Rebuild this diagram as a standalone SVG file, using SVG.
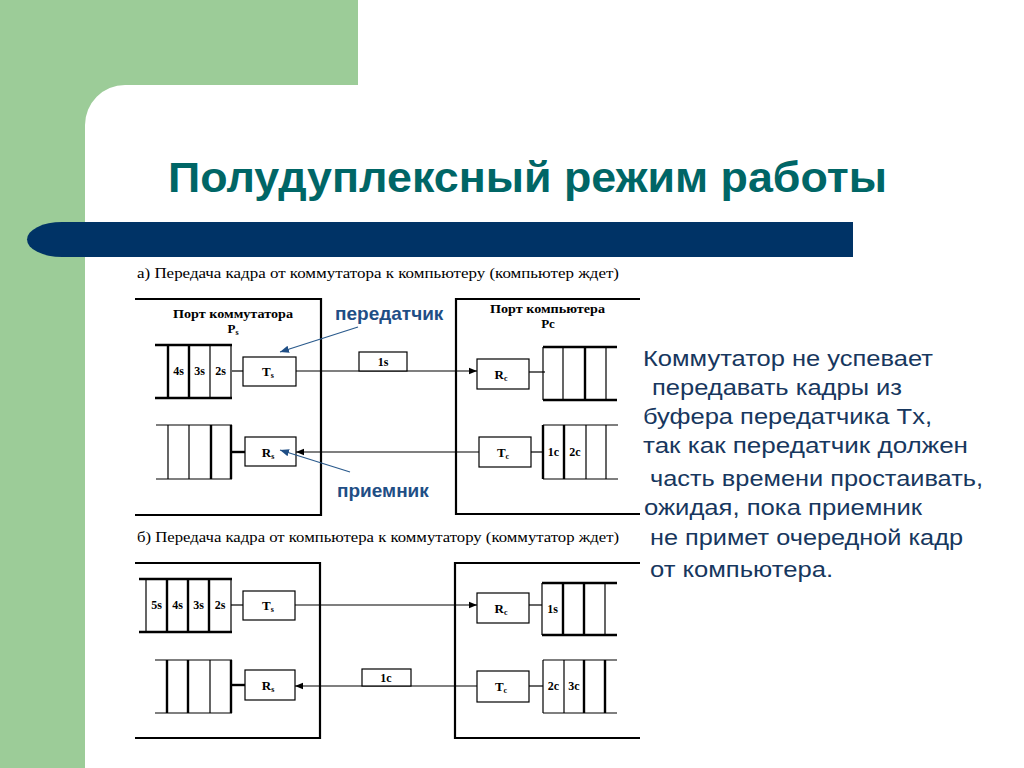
<svg xmlns="http://www.w3.org/2000/svg" width="1024" height="768" viewBox="0 0 1024 768">
<defs>
<style>
.ln{stroke:#000;stroke-width:1.2;fill:none}
.tk{stroke:#000;stroke-width:2.4;fill:none}
.fr{stroke:#000;stroke-width:2.2;fill:none}
.bx{stroke:#000;stroke-width:1.2;fill:#fff}
.lb{font-family:"Liberation Serif",serif;font-weight:bold;font-size:12px;fill:#000;text-anchor:middle}
.bl{font-family:"Liberation Serif",serif;font-weight:bold;font-size:13px;fill:#000;text-anchor:middle}
.pt{font-family:"Liberation Serif",serif;font-weight:bold;font-size:13px;fill:#000}
.cap{font-family:"Liberation Serif",serif;font-size:15px;fill:#000}
.body{font-family:"Liberation Sans",Arial,sans-serif;font-size:22px;fill:#17375e}
.ann{font-family:"Liberation Sans",Arial,sans-serif;font-size:19px;font-weight:bold;fill:#1f4e85}
.al{stroke:#2a5a8c;stroke-width:1.2;fill:none}
</style>
<marker id="ah" viewBox="0 0 10 10" refX="10" refY="5" markerWidth="8" markerHeight="8" markerUnits="userSpaceOnUse" orient="auto"><path d="M0,1 L10,5 L0,9 Z" fill="#000"/></marker>
<marker id="bh" viewBox="0 0 10 10" refX="10" refY="5" markerWidth="9" markerHeight="9" markerUnits="userSpaceOnUse" orient="auto"><path d="M0,1 L10,5 L0,9 Z" fill="#1f4e85"/></marker>
</defs>
<rect width="1024" height="768" fill="#fff"/>
<g id="background">
<rect x="0" y="0" width="358" height="85" fill="#9ccc98"/>
<rect x="0" y="0" width="85" height="768" fill="#9ccc98"/>
<path d="M85,125 A40,40 0 0 1 125,85 L85,85 Z" fill="#9ccc98"/>
<path d="M853,222 H62 A35,17.5 0 0 0 62,257 H853 Z" fill="#003366"/>
</g>
<text id="title" x="168" y="192" font-family="Liberation Sans,Arial,sans-serif" font-size="42" font-weight="bold" fill="#006666" textLength="719" lengthAdjust="spacingAndGlyphs">Полудуплексный режим работы</text>

<text class="cap" x="137" y="278" textLength="482" lengthAdjust="spacingAndGlyphs">а) Передача кадра от коммутатора к компьютеру (компьютер ждет)</text>
<text class="cap" x="137" y="542" textLength="482" lengthAdjust="spacingAndGlyphs">б) Передача кадра от компьютера к коммутатору (коммутатор ждет)</text>

<g id="top-switch-port">
<path class="fr" d="M135,299 H321 V515 H135"/>
<text class="pt" x="173" y="318" textLength="120" lengthAdjust="spacingAndGlyphs">Порт коммутатора</text>
<text class="bl" x="233" y="333">P<tspan font-size="8" dy="2">s</tspan></text>
</g>
<g id="top-computer-port">
<path class="fr" d="M640,299 H456 V514 H640"/>
<text class="pt" x="490" y="313" textLength="115" lengthAdjust="spacingAndGlyphs">Порт компьютера</text>
<text class="bl" x="548" y="328">Pc</text>
</g>

<g id="top-sw-txqueue">
<path class="tk" d="M155,345 H232 M155,398 H232 M168,345 V398 M189,345 V398"/>
<path class="ln" d="M210,345 V398 M231,345 V398"/>
<text class="lb" x="178.5" y="375">4s</text>
<text class="lb" x="199.5" y="375">3s</text>
<text class="lb" x="220.5" y="375">2s</text>
</g>
<g id="top-sw-tx"><rect class="bx" x="243" y="357" width="53" height="29"/><text class="bl" x="268" y="376">T<tspan font-size="8" dy="2">s</tspan></text></g>
<g id="top-sw-rxqueue">
<path class="ln" d="M156,425 H232 M156,479 H232 M168,425 V479 M189,425 V479"/>
<path class="tk" d="M211,425 V479 M231,425 V479"/>
</g>
<g id="top-sw-rx"><rect class="bx" x="245" y="437" width="51" height="29"/><text class="bl" x="268" y="457">R<tspan font-size="8" dy="2">s</tspan></text></g>

<g id="top-pc-rx"><rect class="bx" x="477" y="359" width="52" height="30"/><text class="bl" x="501" y="379">R<tspan font-size="8" dy="2">c</tspan></text></g>
<g id="top-pc-rxqueue">
<path class="tk" d="M543,347 H617 M543,400 H617 M585,347 V400"/>
<path class="ln" d="M543,347 V400 M563,347 V400 M606,347 V400"/>
</g>
<g id="top-pc-tx"><rect class="bx" x="479" y="437" width="52" height="30"/><text class="bl" x="503" y="457">T<tspan font-size="8" dy="2">c</tspan></text></g>
<g id="top-pc-txqueue">
<path class="ln" d="M543,425 H618 M543,479 H618 M586,425 V479 M606,425 V479"/>
<path class="tk" d="M543,425 V479 M564,425 V479"/>
<text class="lb" x="553.5" y="456">1c</text>
<text class="lb" x="575" y="456">2c</text>
</g>

<g id="bot-switch-port"><path class="fr" d="M135,563 H320 V738 H135"/></g>
<g id="bot-computer-port"><path class="fr" d="M640,563 H455 V738 H640"/></g>

<g id="bot-sw-txqueue">
<path class="tk" d="M139,579 H232 M139,632 H232 M167,579 V632 M188,579 V632 M209,579 V632"/>
<path class="ln" d="M146,579 V632 M231,579 V632"/>
<text class="lb" x="156.5" y="609">5s</text>
<text class="lb" x="177.5" y="609">4s</text>
<text class="lb" x="198.5" y="609">3s</text>
<text class="lb" x="220" y="609">2s</text>
</g>
<g id="bot-sw-tx"><rect class="bx" x="243" y="591" width="52" height="29"/><text class="bl" x="268" y="610">T<tspan font-size="8" dy="2">s</tspan></text></g>
<g id="bot-sw-rxqueue">
<path class="tk" d="M167,660 V713 M188,660 V713 M231,660 V713"/>
<path class="ln" d="M155,660 H232 M155,713 H232 M210,660 V713"/>
</g>
<g id="bot-sw-rx"><rect class="bx" x="245" y="670" width="50" height="30"/><text class="bl" x="268" y="690">R<tspan font-size="8" dy="2">s</tspan></text></g>

<g id="bot-pc-rx"><rect class="bx" x="477" y="593" width="52" height="30"/><text class="bl" x="501" y="613">R<tspan font-size="8" dy="2">c</tspan></text></g>
<g id="bot-pc-rxqueue">
<path class="tk" d="M542,583 H617 M542,635 H617 M563,583 V635 M584,583 V635"/>
<path class="ln" d="M542,583 V635 M605,583 V635"/>
<text class="lb" x="552.5" y="613">1s</text>
</g>
<g id="bot-pc-tx"><rect class="bx" x="477" y="671" width="52" height="31"/><text class="bl" x="501" y="691">T<tspan font-size="8" dy="2">c</tspan></text></g>
<g id="bot-pc-txqueue">
<path class="ln" d="M543,660 H617 M543,713 H617 M543,660 V713 M564,660 V713"/>
<path class="tk" d="M584,660 V713 M605,660 V713"/>
<text class="lb" x="553.5" y="690">2c</text>
<text class="lb" x="574" y="690">3c</text>
</g>

<g id="connectors">
<path class="ln" d="M232,371 H243"/>
<path class="ln" d="M296,371 H477" marker-end="url(#ah)"/>
<rect class="bx" x="359" y="352" width="48" height="19"/>
<text class="lb" x="383" y="366">1s</text>
<path class="ln" d="M529,372 H545"/>
<path class="tk" d="M231,452 H245"/>
<path class="ln" d="M479,452 H296" marker-end="url(#ah)"/>
<path class="ln" d="M531,452 H543"/>

<path class="ln" d="M231,605 H243"/>
<path class="ln" d="M295,605 H477" marker-end="url(#ah)"/>
<path class="ln" d="M529,605 H542"/>
<path class="tk" d="M231,685 H245"/>
<path class="ln" d="M477,686 H295" marker-end="url(#ah)"/>
<rect class="bx" x="362" y="669" width="49" height="17"/>
<text class="lb" x="386" y="682">1c</text>
<path class="ln" d="M529,686 H543"/>

<path class="al" d="M358,327 L280,352" marker-end="url(#bh)"/>
<path class="al" d="M350,472 L280,450" marker-end="url(#bh)"/>
</g>

<text class="ann" x="335" y="320">передатчик</text>
<text class="ann" x="337" y="497">приемник</text>

<g id="description">
<text class="body" x="643" y="366" textLength="290" lengthAdjust="spacingAndGlyphs">Коммутатор не успевает</text>
<text class="body" x="652" y="395" textLength="250" lengthAdjust="spacingAndGlyphs">передавать кадры из</text>
<text class="body" x="643" y="424" textLength="289" lengthAdjust="spacingAndGlyphs">буфера передатчика Tx,</text>
<text class="body" x="643" y="453" textLength="325" lengthAdjust="spacingAndGlyphs">так как передатчик должен</text>
<text class="body" x="650" y="486" textLength="333" lengthAdjust="spacingAndGlyphs">часть времени простаивать,</text>
<text class="body" x="644" y="515" textLength="278" lengthAdjust="spacingAndGlyphs">ожидая, пока приемник</text>
<text class="body" x="650" y="545" textLength="313" lengthAdjust="spacingAndGlyphs">не примет очередной кадр</text>
<text class="body" x="650" y="577" textLength="183" lengthAdjust="spacingAndGlyphs">от компьютера.</text>
</g>
</svg>
